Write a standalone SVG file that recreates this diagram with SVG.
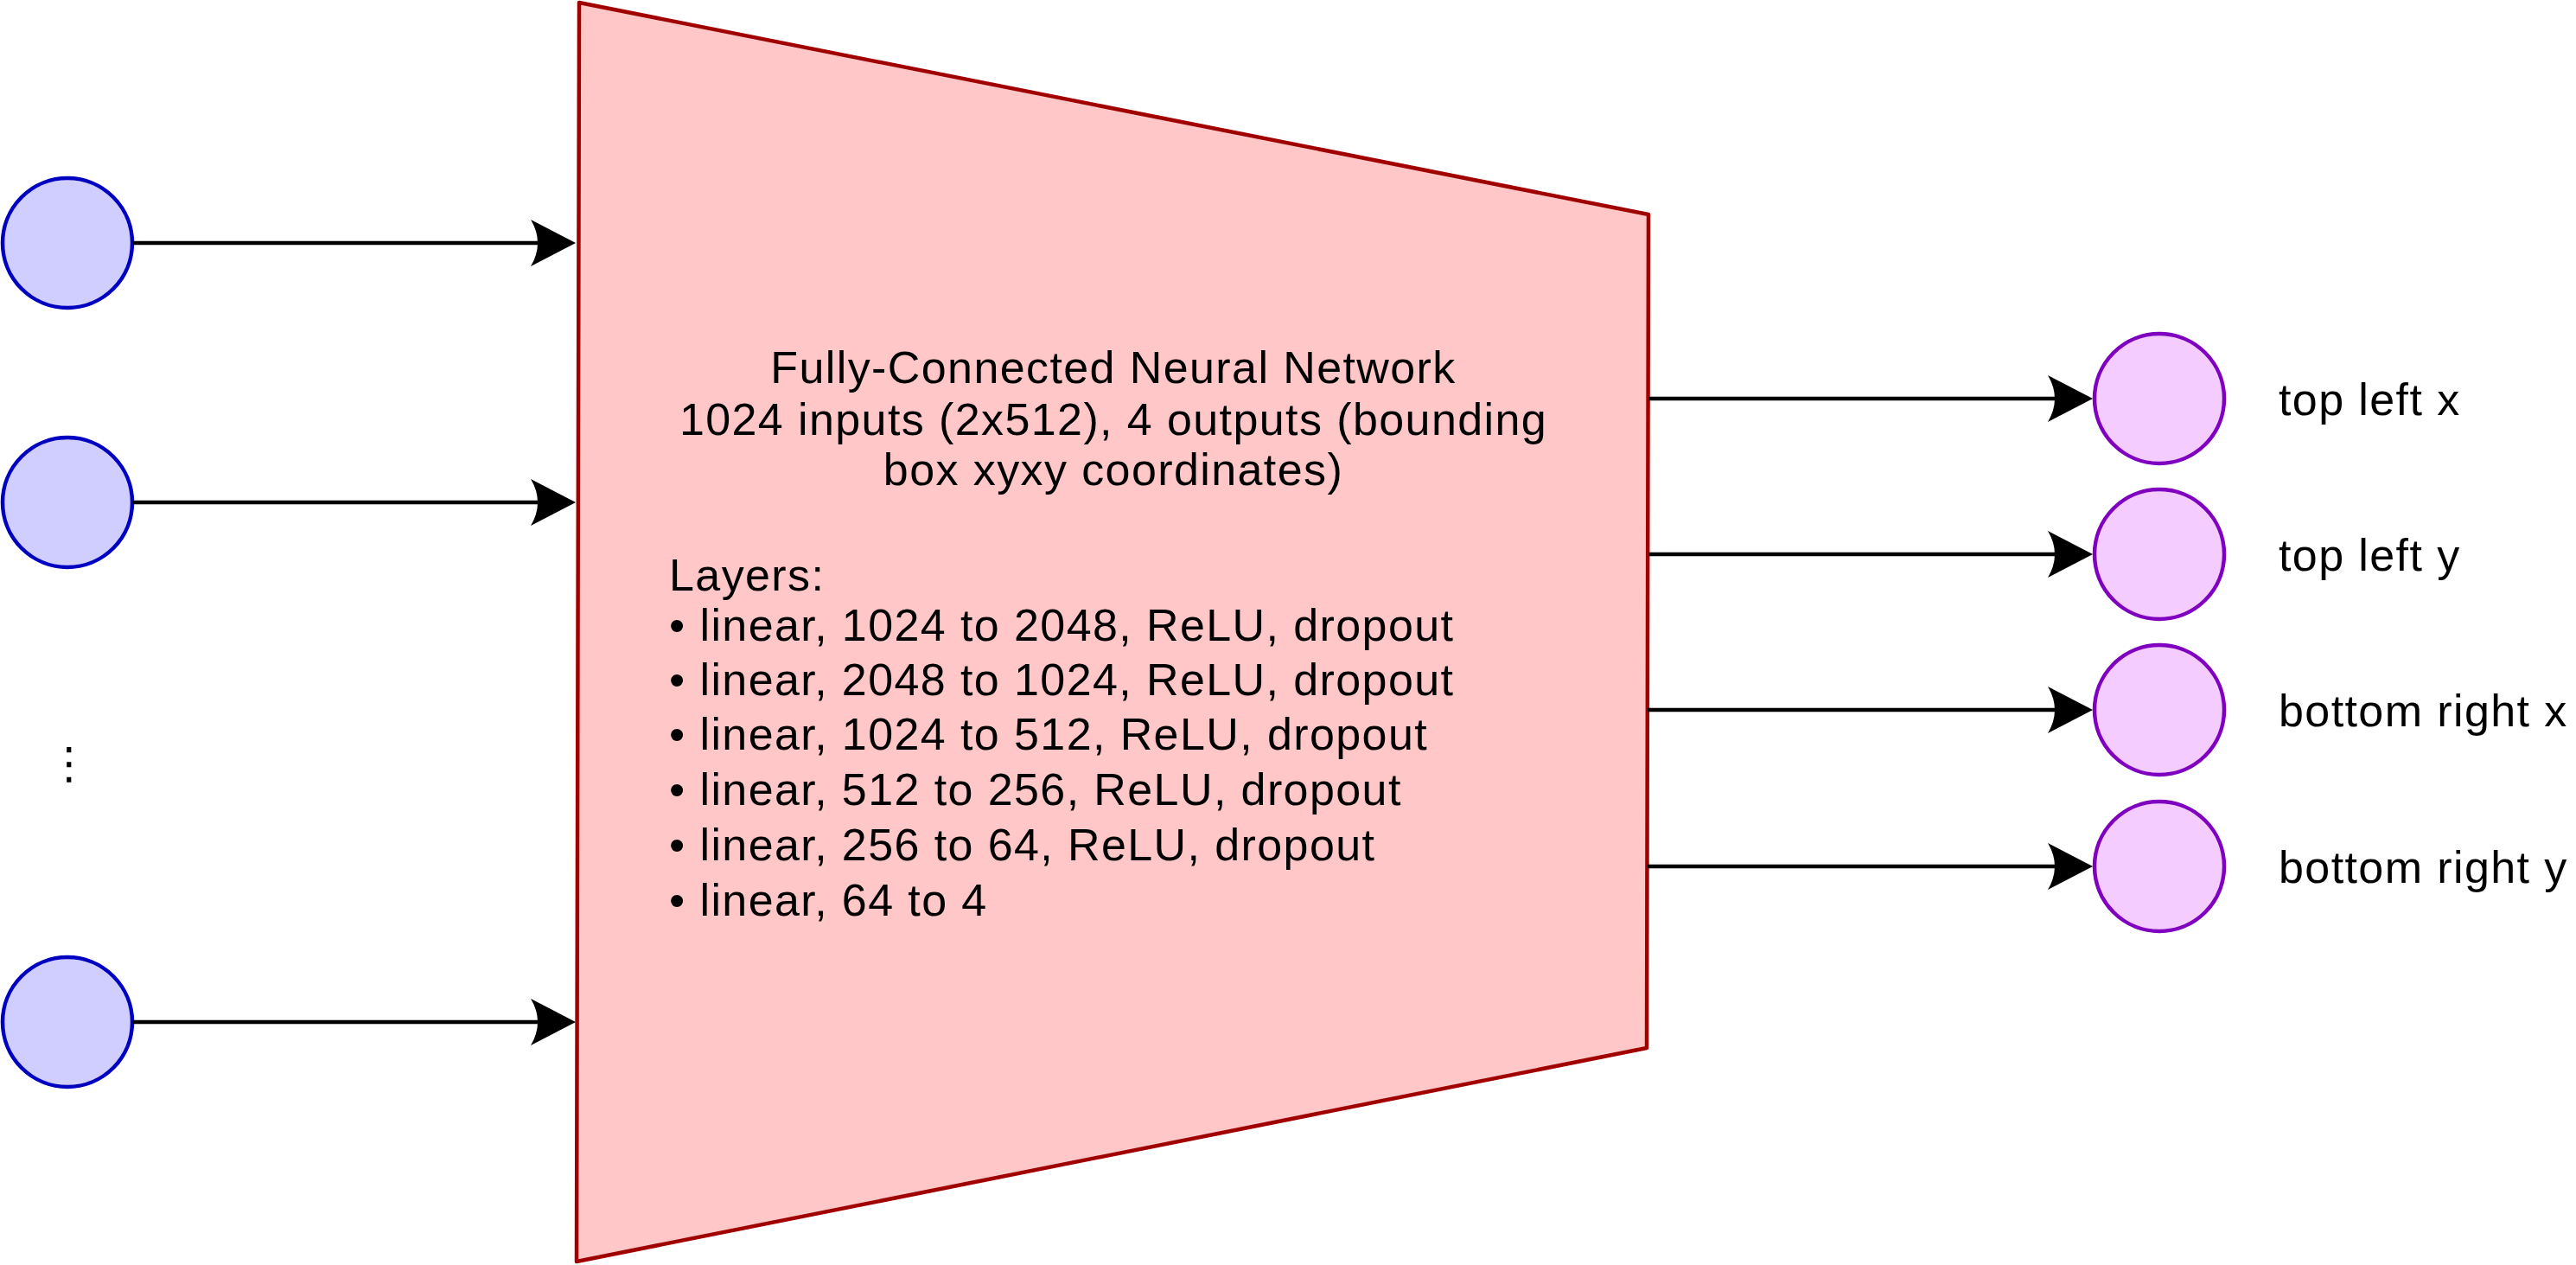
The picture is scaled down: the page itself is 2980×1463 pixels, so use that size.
<svg xmlns="http://www.w3.org/2000/svg" width="2980" height="1463" viewBox="0 0 2980 1463">
  <style>
    .txt { font-family: "Liberation Sans", Arial, sans-serif; font-size: 52px; letter-spacing: 1.4px; fill: #000000; }
    .in { fill: #D0CEFF; stroke: #0000C0; stroke-width: 4.5; }
    .out { fill: #F5CCFF; stroke: #8000C0; stroke-width: 4.5; }
    .net { fill: #FFC7C7; stroke: #A00000; stroke-width: 4.5; stroke-linejoin: round; }
    .edge { fill: none; stroke: #000000; stroke-width: 4.5; }
  </style>
  <defs>
    <marker id="arrow" markerUnits="userSpaceOnUse" viewBox="-56 -30 60 60" markerWidth="60" markerHeight="60" refX="-40" refY="0" orient="auto" overflow="visible">
      <path d="M0,0 L-52,-27 Q-36,0 -52,27 Z" fill="#000000" stroke="none"/>
    </marker>
  </defs>
  <rect width="2980" height="1463" fill="#FFFFFF"/>

  <g id="network">
    <polygon class="net" points="670,3 1907,248 1905,1212 667,1459"/>
    <text class="txt" x="1288" y="443" text-anchor="middle">Fully-Connected Neural Network</text>
    <text class="txt" x="1288" y="503" text-anchor="middle">1024 inputs (2x512), 4 outputs (bounding</text>
    <text class="txt" x="1288" y="561" text-anchor="middle">box xyxy coordinates)</text>
    <text class="txt" x="774" y="683">Layers:</text>
    <text class="txt" x="774" y="741">• linear, 1024 to 2048, ReLU, dropout</text>
    <text class="txt" x="774" y="804">• linear, 2048 to 1024, ReLU, dropout</text>
    <text class="txt" x="774" y="867">• linear, 1024 to 512, ReLU, dropout</text>
    <text class="txt" x="774" y="931">• linear, 512 to 256, ReLU, dropout</text>
    <text class="txt" x="774" y="995">• linear, 256 to 64, ReLU, dropout</text>
    <text class="txt" x="774" y="1059">• linear, 64 to 4</text>
  </g>

  <g id="input1"><circle class="in" cx="78" cy="281" r="75"/></g>
  <g id="input2"><circle class="in" cx="78" cy="581" r="75"/></g>
  <g id="ellipsis"><text x="80" y="900" text-anchor="middle" style="font-family: 'DejaVu Sans', sans-serif; font-size: 50px;">⋮</text></g>
  <g id="input3"><circle class="in" cx="78" cy="1182" r="75"/></g>

  <g id="output1"><circle class="out" cx="2498" cy="461" r="75"/><text class="txt" x="2636" y="480">top left x</text></g>
  <g id="output2"><circle class="out" cx="2498" cy="641" r="75"/><text class="txt" x="2636" y="660">top left y</text></g>
  <g id="output3"><circle class="out" cx="2498" cy="821" r="75"/><text class="txt" x="2636" y="840">bottom right x</text></g>
  <g id="output4"><circle class="out" cx="2498" cy="1002" r="75"/><text class="txt" x="2636" y="1021">bottom right y</text></g>

  <g id="connectors">
    <path class="edge" d="M153,281 L626,281" marker-end="url(#arrow)"/>
    <path class="edge" d="M153,581 L626,581" marker-end="url(#arrow)"/>
    <path class="edge" d="M153,1182 L626,1182" marker-end="url(#arrow)"/>
    <path class="edge" d="M1907,461 L2381,461" marker-end="url(#arrow)"/>
    <path class="edge" d="M1907,641 L2381,641" marker-end="url(#arrow)"/>
    <path class="edge" d="M1906,821 L2381,821" marker-end="url(#arrow)"/>
    <path class="edge" d="M1906,1002 L2381,1002" marker-end="url(#arrow)"/>
  </g>
</svg>
